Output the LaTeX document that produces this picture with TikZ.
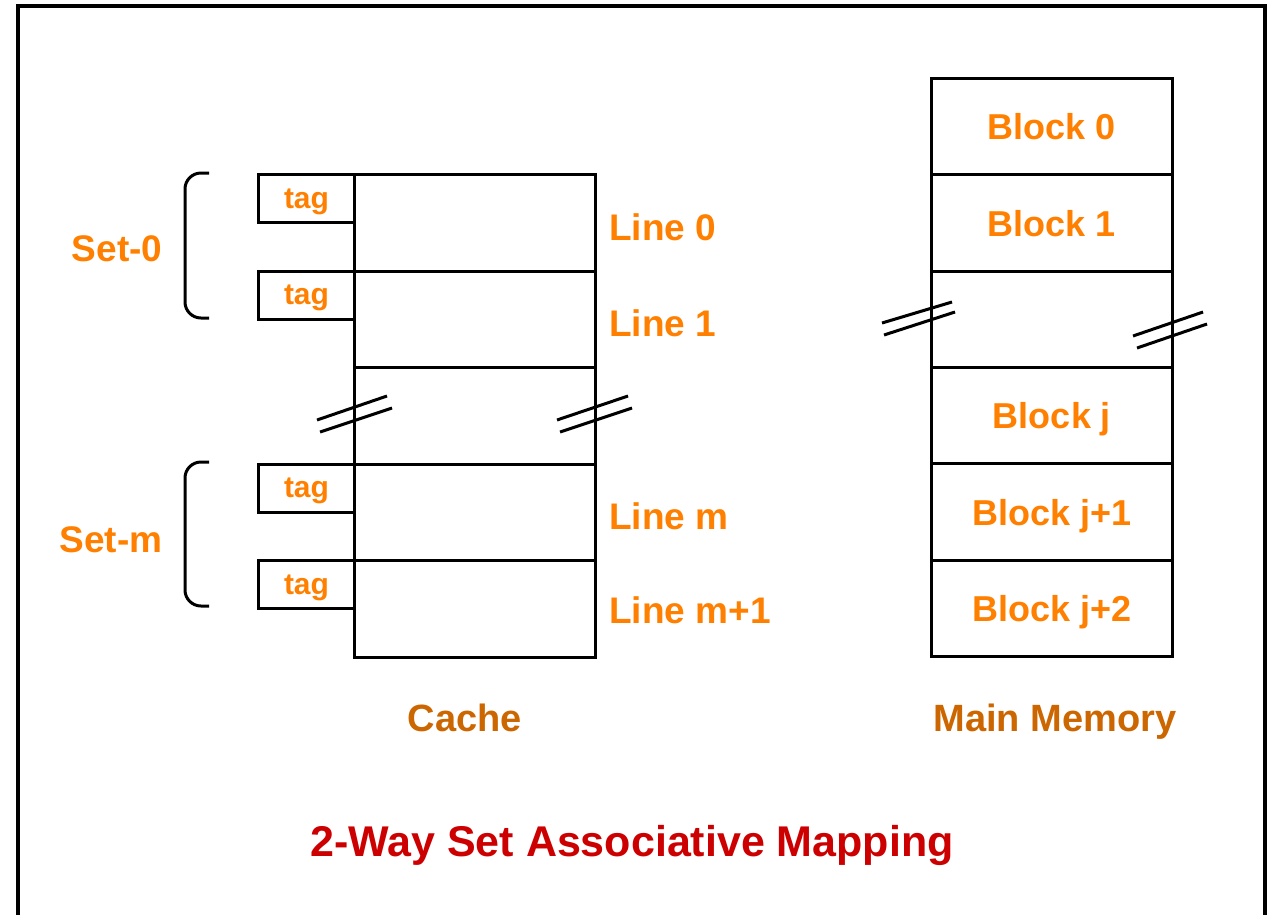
\documentclass[tikz,border=0pt]{standalone}
\usepackage{fontspec}
\setmainfont{Liberation Sans}
\definecolor{lbl}{RGB}{255,128,0}
\definecolor{cap}{RGB}{204,102,0}
\definecolor{ttl}{RGB}{204,0,0}
\begin{document}
\begin{tikzpicture}[x=1pt,y=-1pt,
  frame/.style={line width=4pt},
  cell/.style={draw, line width=3pt, minimum width=241pt, minimum height=96.5pt, inner sep=0pt, anchor=north west,
     font=\fontsize{36}{36}\selectfont\bfseries, text=lbl, text depth=0pt},
  tagbox/.style={draw, line width=3pt, minimum width=96pt, minimum height=48pt, inner sep=0pt, anchor=north west,
     font=\fontsize{30}{30}\selectfont\bfseries, text=lbl, text depth=0pt},
  lbltext/.style={font=\fontsize{37}{37}\selectfont\bfseries, text=lbl, inner sep=0pt, text depth=0pt},
  captext/.style={font=\fontsize{38}{38}\selectfont\bfseries, text=cap, inner sep=0pt, text depth=0pt},
  bracket/.style={line width=3pt, rounded corners=16pt},
  breakmark/.style={line width=3pt}]
\useasboundingbox (0,0) rectangle (1274,914);
\draw[frame] (18,930) -- (18,6) -- (1265,6) -- (1265,930);

% cache
\node[cell] (c0) at (353,173) {};
\node[cell] (c1) at (353,269.5) {};
\node[cell] (c2) at (353,366) {};
\node[cell] (c3) at (353,462.5) {};
\node[cell] (c4) at (353,559) {};
\node[tagbox] (t0) at (257,173) {tag};
\node[tagbox] (t1) at (257,269.5) {tag};
\node[tagbox] (t3) at (257,462.5) {tag};
\node[tagbox] (t4) at (257,559) {tag};

\draw[bracket] (209,173) -- (185,173) -- (185,318) -- (209,318);
\draw[bracket] (209,462) -- (185,462) -- (185,606) -- (209,606);
\node[lbltext] (s0) at (117,249) {Set-0};
\node[lbltext] (sm) at (111,540) {Set-m};

\node[lbltext, anchor=west] (l0) at (609,227) {Line 0};
\node[lbltext, anchor=west] (l1) at (609,323) {Line 1};
\node[lbltext, anchor=west] (lm) at (609,516) {Line m};
\node[lbltext, anchor=west] (lm1) at (609,610) {Line m+1};

\draw[breakmark] (317,420) -- (387,396);
\draw[breakmark] (320,432) -- (392,408);
\draw[breakmark] (557,420) -- (628,396);
\draw[breakmark] (560,432) -- (632,408);

% main memory
\node[cell, minimum height=96.33pt] (m0) at (930,77) {Block 0};
\node[cell, minimum height=96.33pt] (m1) at (930,173.33) {Block 1};
\node[cell, minimum height=96.33pt] (m2) at (930,269.67) {};
\node[cell, minimum height=96.33pt] (m3) at (930,366) {Block j};
\node[cell, minimum height=96.33pt] (m4) at (930,462.33) {Block j+1};
\node[cell, minimum height=96.33pt] (m5) at (930,558.67) {Block j+2};

\draw[breakmark] (882,323) -- (952,302);
\draw[breakmark] (884,335) -- (955,312);
\draw[breakmark] (1133,336) -- (1203,312);
\draw[breakmark] (1137,348) -- (1207,324);

\node[captext] (cc) at (465,718) {Cache};
\node[captext] (mm) at (1055,718) {Main Memory};
\node[font=\fontsize{43}{43}\selectfont\bfseries, text=ttl, inner sep=0pt, text depth=0pt] (title) at (632,841) {2-Way Set Associative Mapping};
\end{tikzpicture}
\end{document}
